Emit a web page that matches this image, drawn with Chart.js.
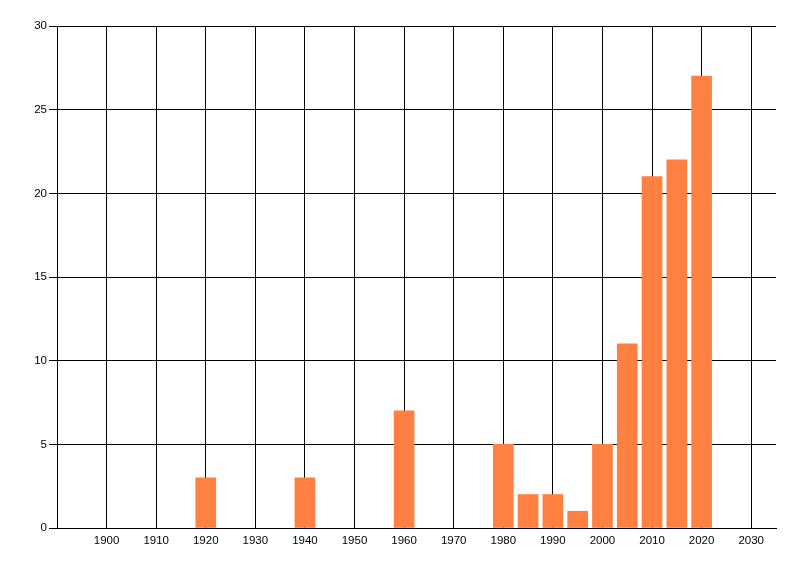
<!DOCTYPE html>
<html>
<head>
<meta charset="utf-8">
<script src="https://cdn.jsdelivr.net/npm/chart.js@4"></script>
<style>
  html, body { margin: 0; padding: 0; background: #fff; }
  #wrap { width: 800px; height: 576px; }
</style>
</head>
<body>
<div id="wrap"><canvas id="yearChart"></canvas></div>
<script>
// Data
const years = [1920, 1940, 1960, 1980, 1985, 1990, 1995, 2000, 2005, 2010, 2015, 2020];
const counts = [3, 3, 7, 5, 2, 2, 1, 5, 11, 21, 22, 27];
const xRange = [1890, 2035];
const xLabelRange = [1900, 2030];
const yRange = [0, 30];

window.addEventListener("load", (event) => {
    var ctx = document.getElementById('yearChart');

    Chart.defaults.font.family = '"Liberation Sans", Arial, sans-serif';
    Chart.defaults.font.size = 11.5;
    Chart.defaults.color = '#000';

    const points = years.map((y, i) => ({ x: y, y: counts[i] }));

    new Chart(ctx, {
        type: 'bar',
        data: {
            datasets: [{
                data: points,
                backgroundColor: 'rgb(255, 128, 64)',
                borderWidth: 0,
                barThickness: 20
            }]
        },
        options: {
            responsive: true,
            maintainAspectRatio: false,
            animation: false,
            layout: { padding: { top: 26, right: 24, left: 0, bottom: 0 } },
            plugins: {
                legend: { display: false },
                tooltip: { enabled: false }
            },
            scales: {
                x: {
                    type: 'linear',
                    offset: false,
                    min: xRange[0],
                    max: xRange[1],
                    afterBuildTicks: (scale) => {
                        scale.ticks = scale.ticks.filter(t => t.value >= xLabelRange[0] && t.value <= xLabelRange[1]);
                    },
                    afterFit: (scale) => { scale.height = 48; },
                    ticks: {
                        stepSize: 10,
                        includeBounds: false,
                        color: '#000',
                        padding: 6,
                        maxRotation: 0,
                        autoSkip: false,
                        callback: (v) => String(v)
                    },
                    grid: {
                        color: '#000',
                        lineWidth: 1,
                        offset: false,
                        drawTicks: false
                    },
                    border: { color: '#000', width: 1 }
                },
                y: {
                    min: yRange[0],
                    max: yRange[1],
                    afterFit: (scale) => { scale.width = 57; },
                    ticks: {
                        stepSize: 5,
                        color: '#000',
                        padding: 2
                    },
                    grid: {
                        color: '#000',
                        lineWidth: 1,
                        tickLength: 8
                    },
                    border: { color: '#000', width: 1 }
                }
            }
        }
    });
});
</script>
</body>
</html>
